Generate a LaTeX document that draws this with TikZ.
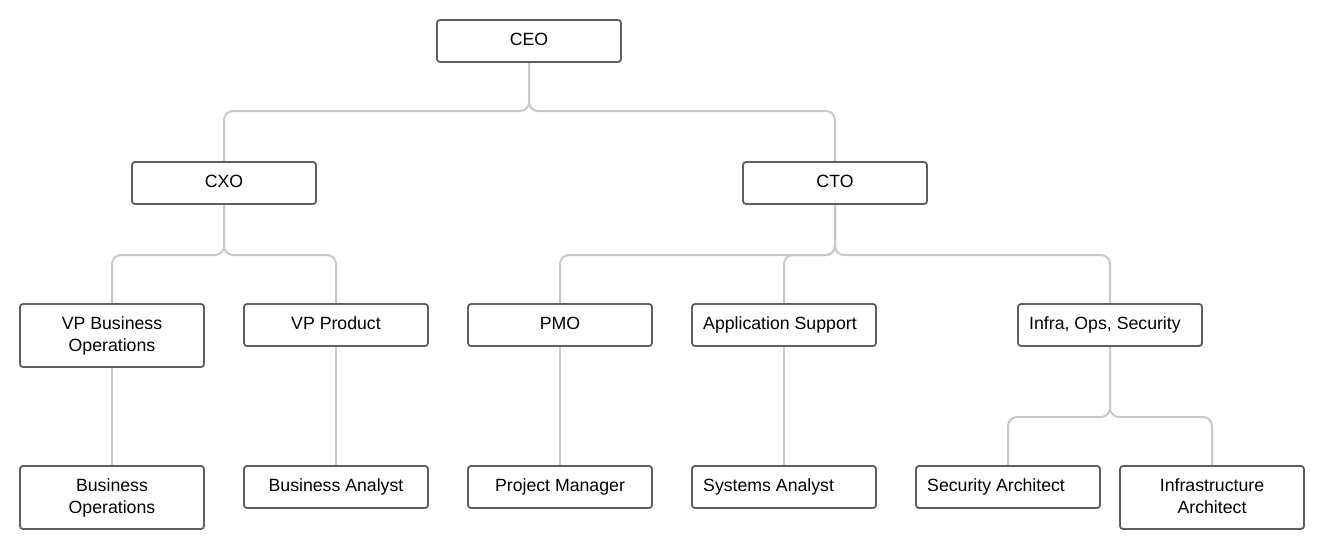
\documentclass[tikz,border=0pt]{standalone}
\usepackage{fontspec}
\setmainfont{Liberation Sans}
\usetikzlibrary{backgrounds}
\definecolor{boxgray}{HTML}{5F5F5F}
\definecolor{linegray}{HTML}{C8C8C8}
\begin{document}
\begin{tikzpicture}[x=1pt,y=-1pt,
  box/.style={draw=boxgray,line width=1.8pt,rounded corners=3pt,fill=white,
    minimum width=184pt,minimum height=42pt,inner sep=0pt,outer sep=0pt,anchor=north west},
  tall/.style={minimum height=63pt},
  txt/.style={inner sep=0pt,align=center,anchor=north,
    font=\fontsize{17.7pt}{21.3pt}\selectfont},
  conn/.style={draw=linegray,line width=2pt,rounded corners=9pt}]
\useasboundingbox (0,0) rectangle (1324,549);
% boxes
\node[box] (ceo) at (437,20) {};
\node[box] (cxo) at (132,162) {};
\node[box] (cto) at (743,162) {};
\node[box,tall] (vpb) at (20,304) {};
\node[box] (vpp) at (244,304) {};
\node[box] (pmo) at (468,304) {};
\node[box] (app) at (692,304) {};
\node[box] (inf) at (1018,304) {};
\node[box,tall] (bop) at (20,466) {};
\node[box] (ban) at (244,466) {};
\node[box] (pm) at (468,466) {};
\node[box] (sys) at (692,466) {};
\node[box] (sec) at (916,466) {};
\node[box,tall] (iar) at (1120,466) {};
% texts
\node[txt] (tceo) at ([yshift=-12.7pt]ceo.north) {CEO};
\node[txt] (tcxo) at ([yshift=-12.7pt]cxo.north) {CXO};
\node[txt] (tcto) at ([yshift=-12.7pt]cto.north) {CTO};
\node[txt] (tvpb) at ([yshift=-12.7pt]vpb.north) {VP Business\\Operations};
\node[txt] (tvpp) at ([yshift=-12.7pt]vpp.north) {VP Product};
\node[txt] (tpmo) at ([yshift=-12.7pt]pmo.north) {PMO};
\node[txt,anchor=north west] (tapp) at ([xshift=11pt,yshift=-12.7pt]app.north west) {Application Support};
\node[txt,anchor=north west] (tinf) at ([xshift=11pt,yshift=-12.7pt]inf.north west) {Infra, Ops, Security};
\node[txt] (tbop) at ([yshift=-12.7pt]bop.north) {Business\\Operations};
\node[txt] (tban) at ([yshift=-12.7pt]ban.north) {Business Analyst};
\node[txt] (tpm) at ([yshift=-12.7pt]pm.north) {Project Manager};
\node[txt,anchor=north west] (tsys) at ([xshift=11pt,yshift=-12.7pt]sys.north west) {Systems Analyst};
\node[txt,anchor=north west] (tsec) at ([xshift=11pt,yshift=-12.7pt]sec.north west) {Security Architect};
\node[txt] (tiar) at ([yshift=-12.7pt]iar.north) {Infrastructure\\Architect};
% connectors
\begin{scope}[on background layer]
\draw[conn] (ceo.south) -- (ceo.south |- 0,111) -| (cxo.north);
\draw[conn] (ceo.south) -- (ceo.south |- 0,111) -| (cto.north);
\draw[conn] (cxo.south) -- (cxo.south |- 0,255) -| (vpb.north);
\draw[conn] (cxo.south) -- (cxo.south |- 0,255) -| (vpp.north);
\draw[conn] (cto.south) -- (cto.south |- 0,255) -| (pmo.north);
\draw[conn] (cto.south) -- (cto.south |- 0,255) -| (app.north);
\draw[conn] (cto.south) -- (cto.south |- 0,255) -| (inf.north);
\draw[conn] (inf.south) -- (inf.south |- 0,417) -| (sec.north);
\draw[conn] (inf.south) -- (inf.south |- 0,417) -| (iar.north);
\draw[conn] (vpb.south) -- (bop.north);
\draw[conn] (vpp.south) -- (ban.north);
\draw[conn] (pmo.south) -- (pm.north);
\draw[conn] (app.south) -- (sys.north);
\end{scope}
\end{tikzpicture}
\end{document}
